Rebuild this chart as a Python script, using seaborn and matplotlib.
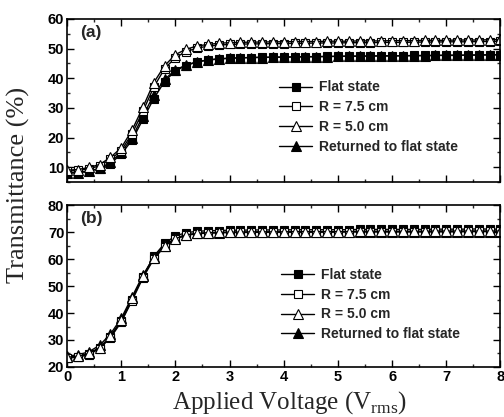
import numpy as np
import pandas as pd
import matplotlib
matplotlib.use("Agg")
import matplotlib.pyplot as plt
import seaborn as sns
from matplotlib.ticker import MultipleLocator

sns.set_theme(style="ticks")
plt.rcParams['font.family'] = ['Liberation Sans', 'DejaVu Sans']

voltage = [0.0, 0.2, 0.4, 0.6, 0.8, 1.0, 1.2, 1.4, 1.6, 1.8, 2.0, 2.2, 2.4, 2.6, 2.8, 3.0,
           3.2, 3.4, 3.6, 3.8, 4.0, 4.2, 4.4, 4.6, 4.8, 5.0, 5.2, 5.4, 5.6, 5.8, 6.0,
           6.2, 6.4, 6.6, 6.8, 7.0, 7.2, 7.4, 7.6, 7.8, 8.0]

series_names = ["Flat state", "R = 7.5 cm", "R = 5.0 cm", "Returned to flat state"]

# Panel (a)
flat_a = [8.2, 8.2, 8.8, 9.5, 11.2, 14.4, 19.1, 26.1, 33.1, 38.9, 42.5, 44.3, 45.5, 46.1, 46.5, 46.7,
          46.9, 47.0, 47.1, 47.1, 47.2, 47.2, 47.3, 47.3, 47.4, 47.4, 47.5, 47.5, 47.5, 47.6, 47.6,
          47.6, 47.7, 47.7, 47.7, 47.8, 47.8, 47.8, 47.9, 47.9, 48.0]
r75_a = [8.7, 8.9, 9.5, 10.4, 12.6, 15.6, 21.3, 28.8, 37.0, 43.2, 47.0, 49.0, 50.2, 50.8, 51.2, 51.4,
         51.5, 51.6, 51.6, 51.7, 51.7, 51.8, 51.8, 51.9, 51.9, 51.9, 52.0, 52.0, 52.0, 52.1, 52.1,
         52.1, 52.2, 52.2, 52.2, 52.3, 52.3, 52.3, 52.4, 52.4, 52.5]
r50_a = [9.0, 9.2, 9.9, 10.9, 13.3, 16.5, 22.5, 30.2, 38.5, 44.2, 48.0, 49.8, 50.9, 51.4, 51.8, 52.0,
         52.1, 52.2, 52.2, 52.3, 52.3, 52.4, 52.4, 52.4, 52.5, 52.5, 52.5, 52.6, 52.6, 52.6, 52.7,
         52.7, 52.7, 52.8, 52.8, 52.8, 52.9, 52.9, 52.9, 53.0, 53.1]
ret_a = [8.0, 8.1, 8.6, 9.6, 11.6, 15.0, 20.0, 27.2, 34.4, 39.6, 42.8, 44.5, 45.6, 46.2, 46.6, 46.8,
         46.9, 47.0, 47.0, 47.1, 47.1, 47.2, 47.2, 47.3, 47.3, 47.4, 47.4, 47.4, 47.5, 47.5, 47.5,
         47.6, 47.6, 47.6, 47.7, 47.7, 47.7, 47.8, 47.8, 47.9, 47.9]

# Panel (b)
flat_b = [23.5, 23.8, 24.8, 27.0, 31.0, 37.0, 45.0, 53.5, 61.0, 65.8, 68.6, 69.8, 70.3, 70.5, 70.6, 70.7,
          70.7, 70.8, 70.8, 70.8, 70.8, 70.9, 70.9, 70.9, 70.9, 70.9, 70.9, 71.0, 71.0, 71.0, 71.0,
          71.0, 71.0, 71.0, 71.1, 71.1, 71.1, 71.1, 71.2, 71.1, 71.1]
r75_b = [23.3, 23.6, 24.6, 26.8, 30.8, 36.6, 44.6, 53.0, 60.0, 64.6, 67.4, 68.8, 69.4, 69.7, 69.8, 69.9,
         70.0, 70.0, 70.0, 70.0, 70.1, 70.1, 70.1, 70.1, 70.1, 70.1, 70.2, 70.2, 70.2, 70.2, 70.2,
         70.2, 70.2, 70.2, 70.3, 70.3, 70.3, 70.3, 70.3, 70.3, 70.3]
r50_b = [23.6, 24.0, 25.0, 27.2, 31.3, 37.4, 45.4, 53.6, 60.3, 64.8, 67.6, 69.0, 69.5, 69.8, 69.9, 70.0,
         70.0, 70.1, 70.1, 70.1, 70.1, 70.2, 70.2, 70.2, 70.2, 70.2, 70.2, 70.3, 70.3, 70.3, 70.3,
         70.3, 70.3, 70.3, 70.4, 70.4, 70.4, 70.4, 70.4, 70.4, 70.4]
ret_b = [24.0, 24.5, 25.6, 28.0, 32.2, 38.0, 46.0, 54.0, 60.6, 65.0, 67.8, 69.0, 69.5, 69.7, 69.8, 69.9,
         69.9, 69.9, 70.0, 70.0, 70.0, 70.0, 70.0, 70.0, 70.0, 70.1, 70.1, 70.1, 70.1, 70.1, 70.1,
         70.1, 70.1, 70.1, 70.1, 70.1, 70.1, 70.2, 70.2, 70.2, 70.2]

x_ticks = [0, 1, 2, 3, 4, 5, 6, 7, 8]
y_ticks_a = [10, 20, 30, 40, 50, 60]
y_ticks_b = [20, 30, 40, 50, 60, 70, 80]


def long_df(vals):
    frames = []
    for name, v in zip(series_names, vals):
        frames.append(pd.DataFrame({"V": voltage, "T": v, "series": name}))
    return pd.concat(frames, ignore_index=True)


df_a = long_df([flat_a, r75_a, r50_a, ret_a])
df_b = long_df([flat_b, r75_b, r50_b, ret_b])

styles = {
    "Flat state": dict(marker="s", mfc="black", ms=6.0),
    "R = 7.5 cm": dict(marker="s", mfc="white", ms=6.0),
    "R = 5.0 cm": dict(marker="^", mfc="white", ms=7.0),
    "Returned to flat state": dict(marker="^", mfc="black", ms=6.5),
}
draw_order = ["Flat state", "Returned to flat state", "R = 7.5 cm", "R = 5.0 cm"]

fig = plt.figure(figsize=(5.04, 4.17), dpi=100)
ax_a = fig.add_axes([0.133, 0.5635, 0.860, 0.391])
ax_b = fig.add_axes([0.133, 0.120, 0.860, 0.388])

for ax, df, ylim, yt, lab, anchor in [(ax_a, df_a, (5, 60), y_ticks_a, "(a)", (0.46, 0.70)),
                                      (ax_b, df_b, (20, 80), y_ticks_b, "(b)", (0.465, 0.69))]:
    handles = {}
    for name in draw_order:
        st = styles[name]
        sub = df[df.series == name]
        sns.lineplot(data=sub, x="V", y="T", ax=ax, color="black", lw=1.0,
                     marker=st["marker"], markersize=st["ms"],
                     markerfacecolor=st["mfc"], markeredgecolor="black",
                     markeredgewidth=0.8, legend=False, estimator=None, sort=False)
        handles[name] = ax.lines[-1]
    ax.set_xlim(0, 8)
    ax.set_ylim(*ylim)
    ax.set_xticks(x_ticks)
    ax.set_yticks(yt)
    ax.xaxis.set_minor_locator(MultipleLocator(0.5))
    ax.yaxis.set_minor_locator(MultipleLocator(5))
    ax.tick_params(which="both", direction="in", top=True, right=True, width=1.0)
    ax.tick_params(which="major", length=5)
    ax.tick_params(which="minor", length=2.5)
    for s in ax.spines.values():
        s.set_linewidth(1.2)
        s.set_color("black")
    ax.set_xlabel("")
    ax.set_ylabel("")
    for t in ax.get_yticklabels() + ax.get_xticklabels():
        t.set_fontweight("bold")
        t.set_fontsize(10.5)
    ax.tick_params(axis="both", pad=2, colors="black")
    ax.text(0.03, 0.965, lab, transform=ax.transAxes, ha="left", va="top",
            fontweight="bold", fontsize=12.5)
    ax.legend([handles[n] for n in series_names], series_names,
              loc="upper left", bbox_to_anchor=anchor, frameon=False,
              handlelength=2.4, handletextpad=0.5, labelspacing=0.42,
              prop=dict(weight="bold", size=10))

ax_a.tick_params(axis="x", labelbottom=False)

fig.text(0.036, 0.556, "Transmittance (%)", rotation=90, ha="center", va="center",
         family=["Liberation Serif", "DejaVu Serif"], fontsize=19)
fig.text(0.575, 0.035, r"Applied Voltage (V$_{\mathregular{rms}}$)", ha="center", va="center",
         family=["Liberation Serif", "DejaVu Serif"], fontsize=18)

fig.savefig("out.png", dpi=100)
